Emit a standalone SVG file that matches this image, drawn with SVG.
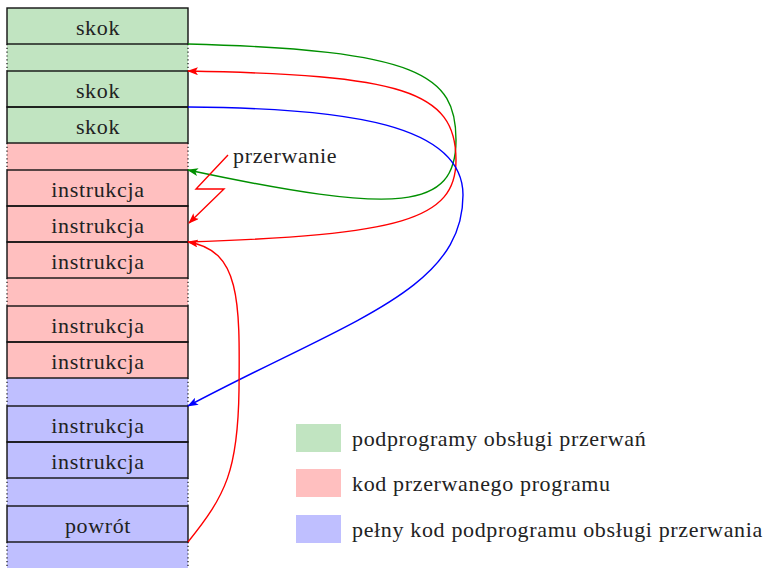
<svg xmlns="http://www.w3.org/2000/svg" width="770" height="568" viewBox="0 0 770 568">
<defs>
<style>
text{font-family:'Liberation Serif','DejaVu Serif',serif;font-size:22px;letter-spacing:0.65px;fill:#222}
.c{text-anchor:middle}
.box{fill:none;stroke:#111;stroke-width:1.4}
.dot{stroke:#111;stroke-width:1.2;stroke-dasharray:1.2,2.6}
.ln{fill:none;stroke-width:1.4}
</style>
<marker id="aR" viewBox="0 0 11 8" refX="10" refY="4" markerWidth="11" markerHeight="8" markerUnits="userSpaceOnUse" orient="auto"><path d="M0,0 L11,4 L0,8 L2.5,4 Z" fill="#f00"/></marker>
<marker id="aG" viewBox="0 0 11 8" refX="10" refY="4" markerWidth="11" markerHeight="8" markerUnits="userSpaceOnUse" orient="auto"><path d="M0,0 L11,4 L0,8 L2.5,4 Z" fill="#009000"/></marker>
<marker id="aB" viewBox="0 0 11 8" refX="10" refY="4" markerWidth="11" markerHeight="8" markerUnits="userSpaceOnUse" orient="auto"><path d="M0,0 L11,4 L0,8 L2.5,4 Z" fill="#00f"/></marker>
</defs>
<rect width="770" height="568" fill="#fff"/>
<g id="memory">
<rect x="7" y="8" width="181" height="135" fill="#c1e4c1"/>
<rect x="7" y="143" width="181" height="235" fill="#ffbfbf"/>
<rect x="7" y="378" width="181" height="190" fill="#bfbfff"/>
<g id="gaps">
<line class="dot" x1="7" y1="44" x2="7" y2="71"/><line class="dot" x1="188" y1="44" x2="188" y2="71"/>
<line class="dot" x1="7" y1="143" x2="7" y2="170"/><line class="dot" x1="188" y1="143" x2="188" y2="170"/>
<line class="dot" x1="7" y1="278" x2="7" y2="306"/><line class="dot" x1="188" y1="278" x2="188" y2="306"/>
<line class="dot" x1="7" y1="378" x2="7" y2="406"/><line class="dot" x1="188" y1="378" x2="188" y2="406"/>
<line class="dot" x1="7" y1="478" x2="7" y2="506"/><line class="dot" x1="188" y1="478" x2="188" y2="506"/>
<line class="dot" x1="7" y1="542" x2="7" y2="568"/><line class="dot" x1="188" y1="542" x2="188" y2="568"/>
</g>
<g id="n1"><rect class="box" x="7" y="8" width="181" height="36"/><text class="c" x="98" y="34.5">skok</text></g>
<g id="n2"><rect class="box" x="7" y="71" width="181" height="36"/><text class="c" x="98" y="97.5">skok</text></g>
<g id="n3"><rect class="box" x="7" y="107" width="181" height="36"/><text class="c" x="98" y="133.5">skok</text></g>
<g id="n4"><rect class="box" x="7" y="170" width="181" height="36"/><text class="c" x="98" y="196.5">instrukcja</text></g>
<g id="n5"><rect class="box" x="7" y="206" width="181" height="36"/><text class="c" x="98" y="232.5">instrukcja</text></g>
<g id="n6"><rect class="box" x="7" y="242" width="181" height="36"/><text class="c" x="98" y="268.5">instrukcja</text></g>
<g id="n7"><rect class="box" x="7" y="306" width="181" height="36"/><text class="c" x="98" y="332.5">instrukcja</text></g>
<g id="n8"><rect class="box" x="7" y="342" width="181" height="36"/><text class="c" x="98" y="368.5">instrukcja</text></g>
<g id="n9"><rect class="box" x="7" y="406" width="181" height="36"/><text class="c" x="98" y="432.5">instrukcja</text></g>
<g id="n10"><rect class="box" x="7" y="442" width="181" height="36"/><text class="c" x="98" y="468.5">instrukcja</text></g>
<g id="n11"><rect class="box" x="7" y="506" width="181" height="36"/><text class="c" x="98" y="532.5">powrót</text></g>
</g>
<g id="connectors">
<path class="ln" stroke="#009000" marker-end="url(#aG)" d="M188,44 C420,50 456,75 456,140 C456,210 400,215 188,170"/>
<path class="ln" stroke="#f00" marker-end="url(#aR)" d="M188,242 C400,235 456,220 456,160 C456,90 400,75 188,71"/>
<path class="ln" stroke="#00f" marker-end="url(#aB)" d="M188,107 C350,108 463,125 463,195 C463,290 350,320 188,406"/>
<path class="ln" stroke="#f00" marker-end="url(#aR)" d="M188,542 C226,495 238,470 239,390 C240,300 240,250 188,242"/>
<polyline class="ln" stroke="#f00" marker-end="url(#aR)" points="228,155 196,189 224,189 189,223"/>
</g>
<g id="label"><text x="233" y="163">przerwanie</text></g>
<g id="legend">
<g id="lg1"><rect x="296" y="424" width="45" height="28" fill="#c1e4c1"/><text x="352" y="446">podprogramy obsługi przerwań</text></g>
<g id="lg2"><rect x="296" y="469" width="45" height="28" fill="#ffbfbf"/><text x="352" y="491">kod przerwanego programu</text></g>
<g id="lg3"><rect x="296" y="515" width="45" height="28" fill="#bfbfff"/><text x="352" y="537">pełny kod podprogramu obsługi przerwania</text></g>
</g>
</svg>
